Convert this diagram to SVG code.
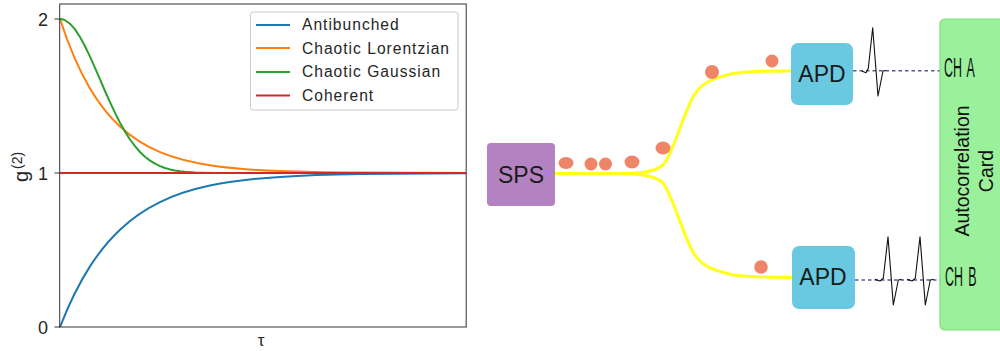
<svg xmlns="http://www.w3.org/2000/svg" width="1000" height="351" viewBox="0 0 1000 351">
<style>
text{font-family:"Liberation Sans",Arial,sans-serif;fill:#111}
.c{fill:none;stroke-width:2;stroke-linejoin:round;stroke-linecap:butt}
.lg{font-size:15.600px;letter-spacing:1px;fill:#262626}
.tk{font-size:18px;fill:#262626}
.f{fill:none;stroke:#ffff1a;stroke-width:3}
.d{fill:#ee8468}
.apd{fill:#68c9e0}
.nt{font-size:23px;text-anchor:middle;fill:#1a1a1a}
.w{fill:none;stroke:#111;stroke-width:1.1;stroke-linejoin:round}
.dash{stroke:#5a5a92;stroke-width:1.5;stroke-dasharray:3.500 3}
</style>
<g id="chart">
<path class="c" stroke="#1f77b4" d="M60,327C70,301.33 80,281.97 90,266.4C100,250.83 110,239.15 120,229.7C133.33,217.1 146.67,208.57 160,202.1C176.67,194.02 193.33,189.1 210,185.6C233.33,180.7 256.67,178.42 280,176.9C306.67,175.17 333.33,174.44 360,174L466,173.2"/>
<path class="c" stroke="#ff7f0e" d="M60,19C70,49.8 80,71.6 90,88.5C100,105.4 110,117.32 120,126.6C133.33,138.97 146.67,146.65 160,152.2C176.67,159.13 193.33,162.73 210,165.3C233.33,168.89 256.67,170.21 280,171.1C306.67,172.11 333.33,172.42 360,172.62L466,173"/>
<polyline class="c" stroke="#2ca02c" points="60,19 62.500,19.300 65,20.200 70,23.700 75,29.400 80,37 85,46.200 90,56.600 95,67.800 100,79.400 105,91 110,102.200 115,112.900 120,122.700 125,131.600 130,139.500 135,146.200 140,152 145,156.700 150,160.600 155,163.700 160,166.100 165,168 170,169.400 175,170.500 180,171.300 185,171.800 195,172.500 200,172.700 215,173 466,173"/>
<line class="c" stroke="#d62728" x1="60" y1="173" x2="466" y2="173" stroke-width="2.200"/>
<rect x="59.700" y="4" width="406.500" height="323" fill="none" stroke="#333" stroke-width="1"/>
<path d="M54.500,19H60M54.500,173H60M54.500,327H60" stroke="#333" stroke-width="1" fill="none"/>
<text class="tk" x="43" y="26" text-anchor="middle">2</text>
<text class="tk" x="43" y="180" text-anchor="middle">1</text>
<text class="tk" x="43" y="334" text-anchor="middle">0</text>
<text class="tk" x="261" y="346" text-anchor="middle" style="font-size:17px">τ</text>
<text class="tk" transform="translate(28,182) rotate(-90)" style="font-size:20px">g<tspan dy="-6" dx="2" style="font-size:14px">(2)</tspan></text>
<g id="legend">
<rect x="250.500" y="12" width="207.500" height="98" rx="2.500" fill="#fff" fill-opacity=".9" stroke="#ccc" stroke-width="1"/>
<line x1="256" y1="25" x2="290" y2="25" stroke="#1f77b4" stroke-width="2"/>
<line x1="256" y1="48" x2="290" y2="48" stroke="#ff7f0e" stroke-width="2"/>
<line x1="256" y1="72" x2="290" y2="72" stroke="#2ca02c" stroke-width="2"/>
<line x1="256" y1="95.500" x2="290" y2="95.500" stroke="#d62728" stroke-width="2"/>
<text class="lg" x="302" y="30">Antibunched</text>
<text class="lg" x="302" y="53.500">Chaotic Lorentzian</text>
<text class="lg" x="302" y="77">Chaotic Gaussian</text>
<text class="lg" x="302" y="100.500">Coherent</text>
</g>
</g>
<g id="connectors">
<path class="f" d="M555,173.500H625C640,173.500 656,171 663,165C672,156 682,118 693,97C700,84 712,78 733,73.500C750,71 770,71 791,71"/>
<path class="f" d="M625,173.500C640,174 656,176 663,183C672,194 682,232 693,252C701,266 712,270 733,275C750,277 770,277.500 792,277.500"/>
<line class="dash" x1="853" y1="70.700" x2="940" y2="70.700"/>
<line class="dash" x1="855" y1="280" x2="940" y2="280"/>
</g>
<g id="sps"><rect x="487" y="143" width="68" height="63" rx="4" fill="#b382c0"/><text class="nt" x="521" y="183">SPS</text></g>
<g id="apd-a"><rect class="apd" x="791" y="43" width="62" height="62" rx="7"/><text class="nt" x="822" y="82">APD</text></g>
<g id="apd-b"><rect class="apd" x="792" y="246" width="63" height="63" rx="7"/><text class="nt" x="823" y="285">APD</text></g>
<g id="card">
<rect x="940" y="19" width="70" height="311" rx="5" fill="#9bf09b" stroke="#7ce07c" stroke-width="1.200"/>
<text transform="translate(969,171) rotate(-90)" text-anchor="middle" style="font-size:19.500px">Autocorrelation</text>
<text transform="translate(993,171) rotate(-90)" text-anchor="middle" style="font-size:19.500px">Card</text>
<text transform="translate(944,77) scale(.46,1)" style="font-size:27px;word-spacing:4px">CH A</text>
<text transform="translate(945,286) scale(.46,1)" style="font-size:27px;word-spacing:4px">CH B</text>
</g>
<g id="photons">
<ellipse class="d" cx="566" cy="163" rx="7.500" ry="6"/>
<circle class="d" cx="591" cy="164" r="6.500"/>
<circle class="d" cx="605.500" cy="164" r="6.500"/>
<ellipse class="d" cx="632" cy="162" rx="7.500" ry="6.500"/>
<ellipse class="d" cx="663" cy="148" rx="7.500" ry="6.500"/>
<circle class="d" cx="712" cy="72" r="7"/>
<circle class="d" cx="772" cy="61" r="6.500"/>
<circle class="d" cx="761" cy="267" r="6.800"/>
</g>
<g id="pulses">
<polyline class="w" points="861.700,71 866,72.700 868.300,68.300 872.700,27.700 878,96 883,71 886,70.500"/>
<polyline class="w" points="875,279.300 880,281 883.300,278.300 888,236.700 893.300,305 898.300,280 901.700,279.300"/>
<polyline class="w" points="907,279.300 912,281 915.300,278.300 920,236.700 925.300,305 930.300,280 933.700,279.300"/>
</g>
</svg>
